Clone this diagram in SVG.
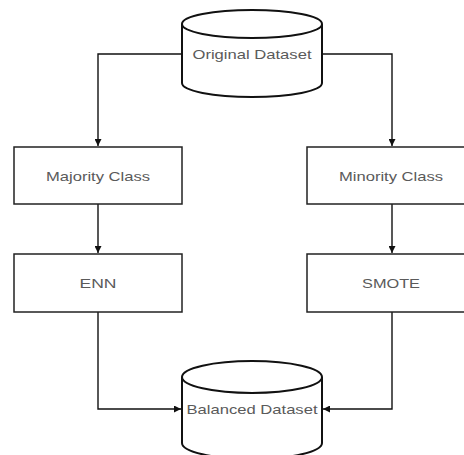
<svg xmlns="http://www.w3.org/2000/svg" width="464" height="455" viewBox="0 0 464 455">
  <style>
    .cyl { fill: #ffffff; stroke: #111111; stroke-width: 2; }
    .box { fill: #ffffff; stroke: #222222; stroke-width: 1.5; }
    .lbl { font-family: "Liberation Sans", Arial, sans-serif; font-size: 13px; fill: #5a5a5a; text-anchor: middle; }
    .edge { fill: none; stroke: #111111; stroke-width: 1.4; }
  </style>
  <defs>
    <marker id="arrow" viewBox="0 0 10 10" refX="10" refY="5" markerWidth="7" markerHeight="7" markerUnits="userSpaceOnUse" orient="auto">
      <path d="M0,0 L10,5 L0,10 Z" fill="#111111"/>
    </marker>
  </defs>
  <rect width="464" height="455" fill="#ffffff"/>

  <!-- connectors -->
  <g id="connectors">
    <path class="edge" d="M182,54 H98 V146" marker-end="url(#arrow)"/>
    <path class="edge" d="M322,54 H392 V146" marker-end="url(#arrow)"/>
    <path class="edge" d="M98,204 V253" marker-end="url(#arrow)"/>
    <path class="edge" d="M392,204 V253" marker-end="url(#arrow)"/>
    <path class="edge" d="M98,312 V409 H181" marker-end="url(#arrow)"/>
    <path class="edge" d="M392,312 V409 H323" marker-end="url(#arrow)"/>
  </g>

  <!-- source dataset -->
  <g id="original-dataset">
    <path class="cyl" d="M182,24 A70,14 0 0 1 322,24 V83 A70,14 0 0 1 182,83 Z"/>
    <path class="cyl" fill="none" d="M182,24 A70,14 0 0 0 322,24"/>
    <text class="lbl" x="252" y="59" textLength="119" lengthAdjust="spacingAndGlyphs">Original Dataset</text>
  </g>

  <g id="majority-class">
    <rect class="box" x="14" y="147" width="168" height="57"/>
    <text class="lbl" x="98" y="181" textLength="104" lengthAdjust="spacingAndGlyphs">Majority Class</text>
  </g>

  <g id="minority-class">
    <rect class="box" x="307" y="147" width="168" height="57"/>
    <text class="lbl" x="391" y="181" textLength="104" lengthAdjust="spacingAndGlyphs">Minority Class</text>
  </g>

  <g id="enn">
    <rect class="box" x="14" y="254" width="168" height="58"/>
    <text class="lbl" x="98" y="288" textLength="37" lengthAdjust="spacingAndGlyphs">ENN</text>
  </g>

  <g id="smote">
    <rect class="box" x="307" y="254" width="168" height="58"/>
    <text class="lbl" x="391" y="288" textLength="58" lengthAdjust="spacingAndGlyphs">SMOTE</text>
  </g>

  <!-- resulting dataset -->
  <g id="balanced-dataset">
    <path class="cyl" d="M182,377 A70,16 0 0 1 322,377 V443 A70,16 0 0 1 182,443 Z"/>
    <path class="cyl" fill="none" d="M182,377 A70,16 0 0 0 322,377"/>
    <text class="lbl" x="252" y="414" textLength="131" lengthAdjust="spacingAndGlyphs">Balanced Dataset</text>
  </g>
</svg>
